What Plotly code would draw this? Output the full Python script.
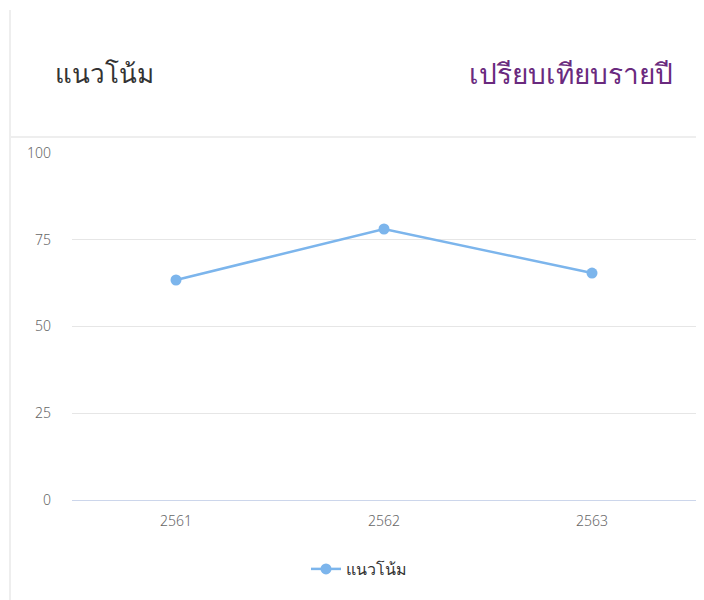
import plotly.graph_objects as go

years = ["2561", "2562", "2563"]
trend_values = [63.4, 78.1, 65.4]
y_ticks = [0, 25, 50, 75, 100]
series_name = "แนวโน้ม"
title_left = "แนวโน้ม"
title_right = "เปรียบเทียบรายปี"

OFF = 8  # page body margin
W, H = 704 - OFF, 600 - OFF
# plot area in page pixels: x 72..696, y 153..500
L, R, T, B = 72 - OFF, 704 - 696, 153 - OFF, 600 - 500
pw, ph = W - L - R, H - T - B

def px(x):  # page pixel -> paper
    return (x - OFF - L) / pw

def py(y):
    return (H - B - (y - OFF)) / ph

FONT = "Noto Sans, sans-serif"

fig = go.Figure()
fig.add_trace(go.Scatter(
    x=years, y=trend_values, mode="lines+markers", name=series_name,
    line=dict(color="#7cb5ec", width=2.5),
    marker=dict(color="#7cb5ec", size=11),
))

fig.update_layout(
    width=W, height=H,
    margin=dict(l=L, r=R, t=T, b=B),
    paper_bgcolor="white", plot_bgcolor="white",
    font=dict(family=FONT, color="#666666", size=14),
    showlegend=True,
    legend=dict(orientation="h", x=px(306), xanchor="left", y=py(569), yanchor="middle",
                font=dict(size=16, color="#333333", weight=300), itemwidth=30),
    xaxis=dict(range=[-0.5, 2.5], showgrid=False, zeroline=False,
               showline=True, linecolor="#ccd6eb", linewidth=1,
               ticks="", tickfont=dict(size=14, color="#666666", weight=300), ticklabelstandoff=8),
    yaxis=dict(range=[0, 100], tickvals=y_ticks, showgrid=True, gridcolor="#e6e6e6",
               zeroline=False, showline=False, ticks="",
               tickfont=dict(size=14, color="#666666", weight=300), ticklabelstandoff=20),
    shapes=[
        dict(type="line", xref="paper", yref="paper", x0=px(10), x1=px(10), y0=py(10), y1=py(600),
             line=dict(color="#eeeeee", width=2)),
        dict(type="line", xref="paper", yref="paper", x0=px(10), x1=px(704), y0=py(137), y1=py(137),
             line=dict(color="#eeeeee", width=2)),
    ],
    annotations=[
        dict(text=title_left, xref="paper", yref="paper", x=px(53), y=py(73),
             xanchor="left", yanchor="middle", showarrow=False,
             font=dict(family=FONT, size=26, color="#333333", weight=300)),
        dict(text=title_right, xref="paper", yref="paper", x=px(675), y=py(73),
             xanchor="right", yanchor="middle", showarrow=False,
             font=dict(family=FONT, size=28, color="#6a2a7e", weight=300)),
    ],
)

fig.write_html("out.html")
